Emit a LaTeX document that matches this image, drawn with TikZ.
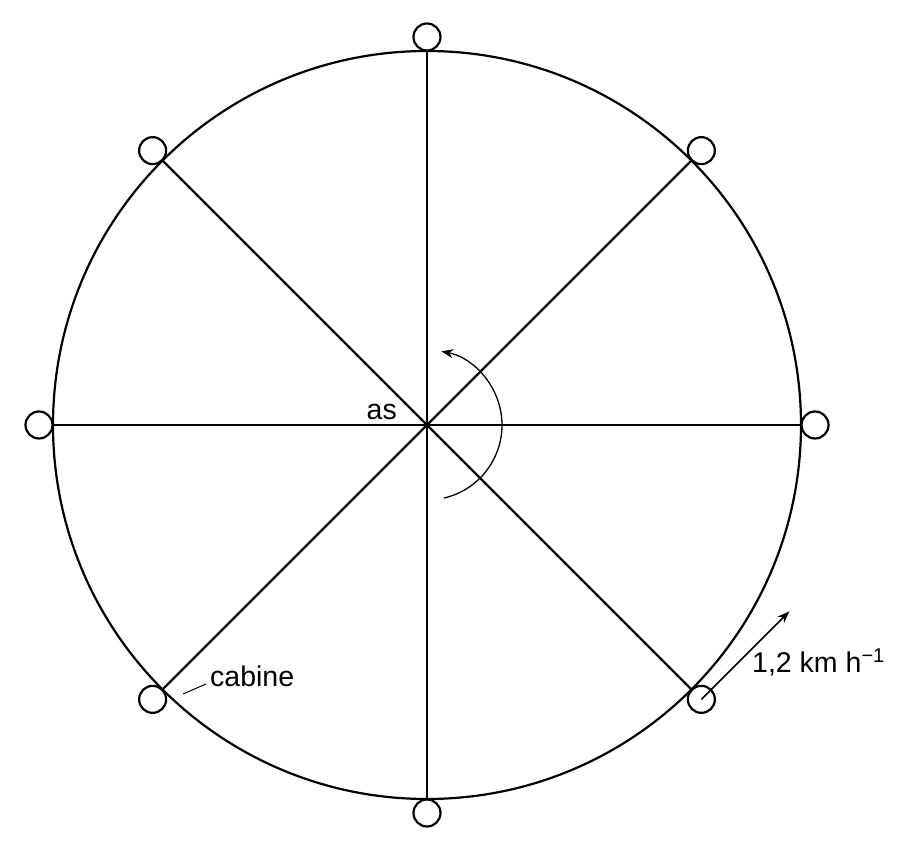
\documentclass[tikz,border=0pt]{standalone}
\usepackage{fontspec}
\setmainfont{Liberation Sans}
\usetikzlibrary{arrows.meta}
\begin{document}
\begin{tikzpicture}[x=1pt,y=1pt,
  mainline/.style={line width=2.2pt},
  cabin/.style={circle,draw,line width=2.2pt,minimum size=27pt,inner sep=0pt},
  lbl/.style={font=\fontsize{28.5}{32}\selectfont,inner sep=0pt},
  tip/.style={-{Stealth[length=12pt,width=9pt]}}]
\useasboundingbox (-427,-428) rectangle (480,425);
\coordinate (as) at (0,0);
\draw[mainline] (as) circle (374);
\foreach \a in {0,45,...,315}{
  \coordinate (r\a) at (\a:374);
  \node[cabin] (c\a) at (\a:388) {};
  \draw[mainline] (as) -- (r\a);
}
\fill (as) circle (3);
\draw[line width=1.3pt,tip] (-77:75) arc (-77:79:75);
\draw[line width=1.6pt,tip] (c315.center) -- ++(88,88) coordinate (vend);
\node[lbl,anchor=base west] (vl) at (325,-247) {1,2 km h\textsuperscript{−1}};
\node[lbl,anchor=base west] (cab) at (-217,-261) {cabine};
\coordinate (lead) at (-244,-269);
\draw[line width=1pt] (lead) -- (-221,-259);
\node[lbl,anchor=base east] (asl) at (-30,5) {as};
\end{tikzpicture}
\end{document}
